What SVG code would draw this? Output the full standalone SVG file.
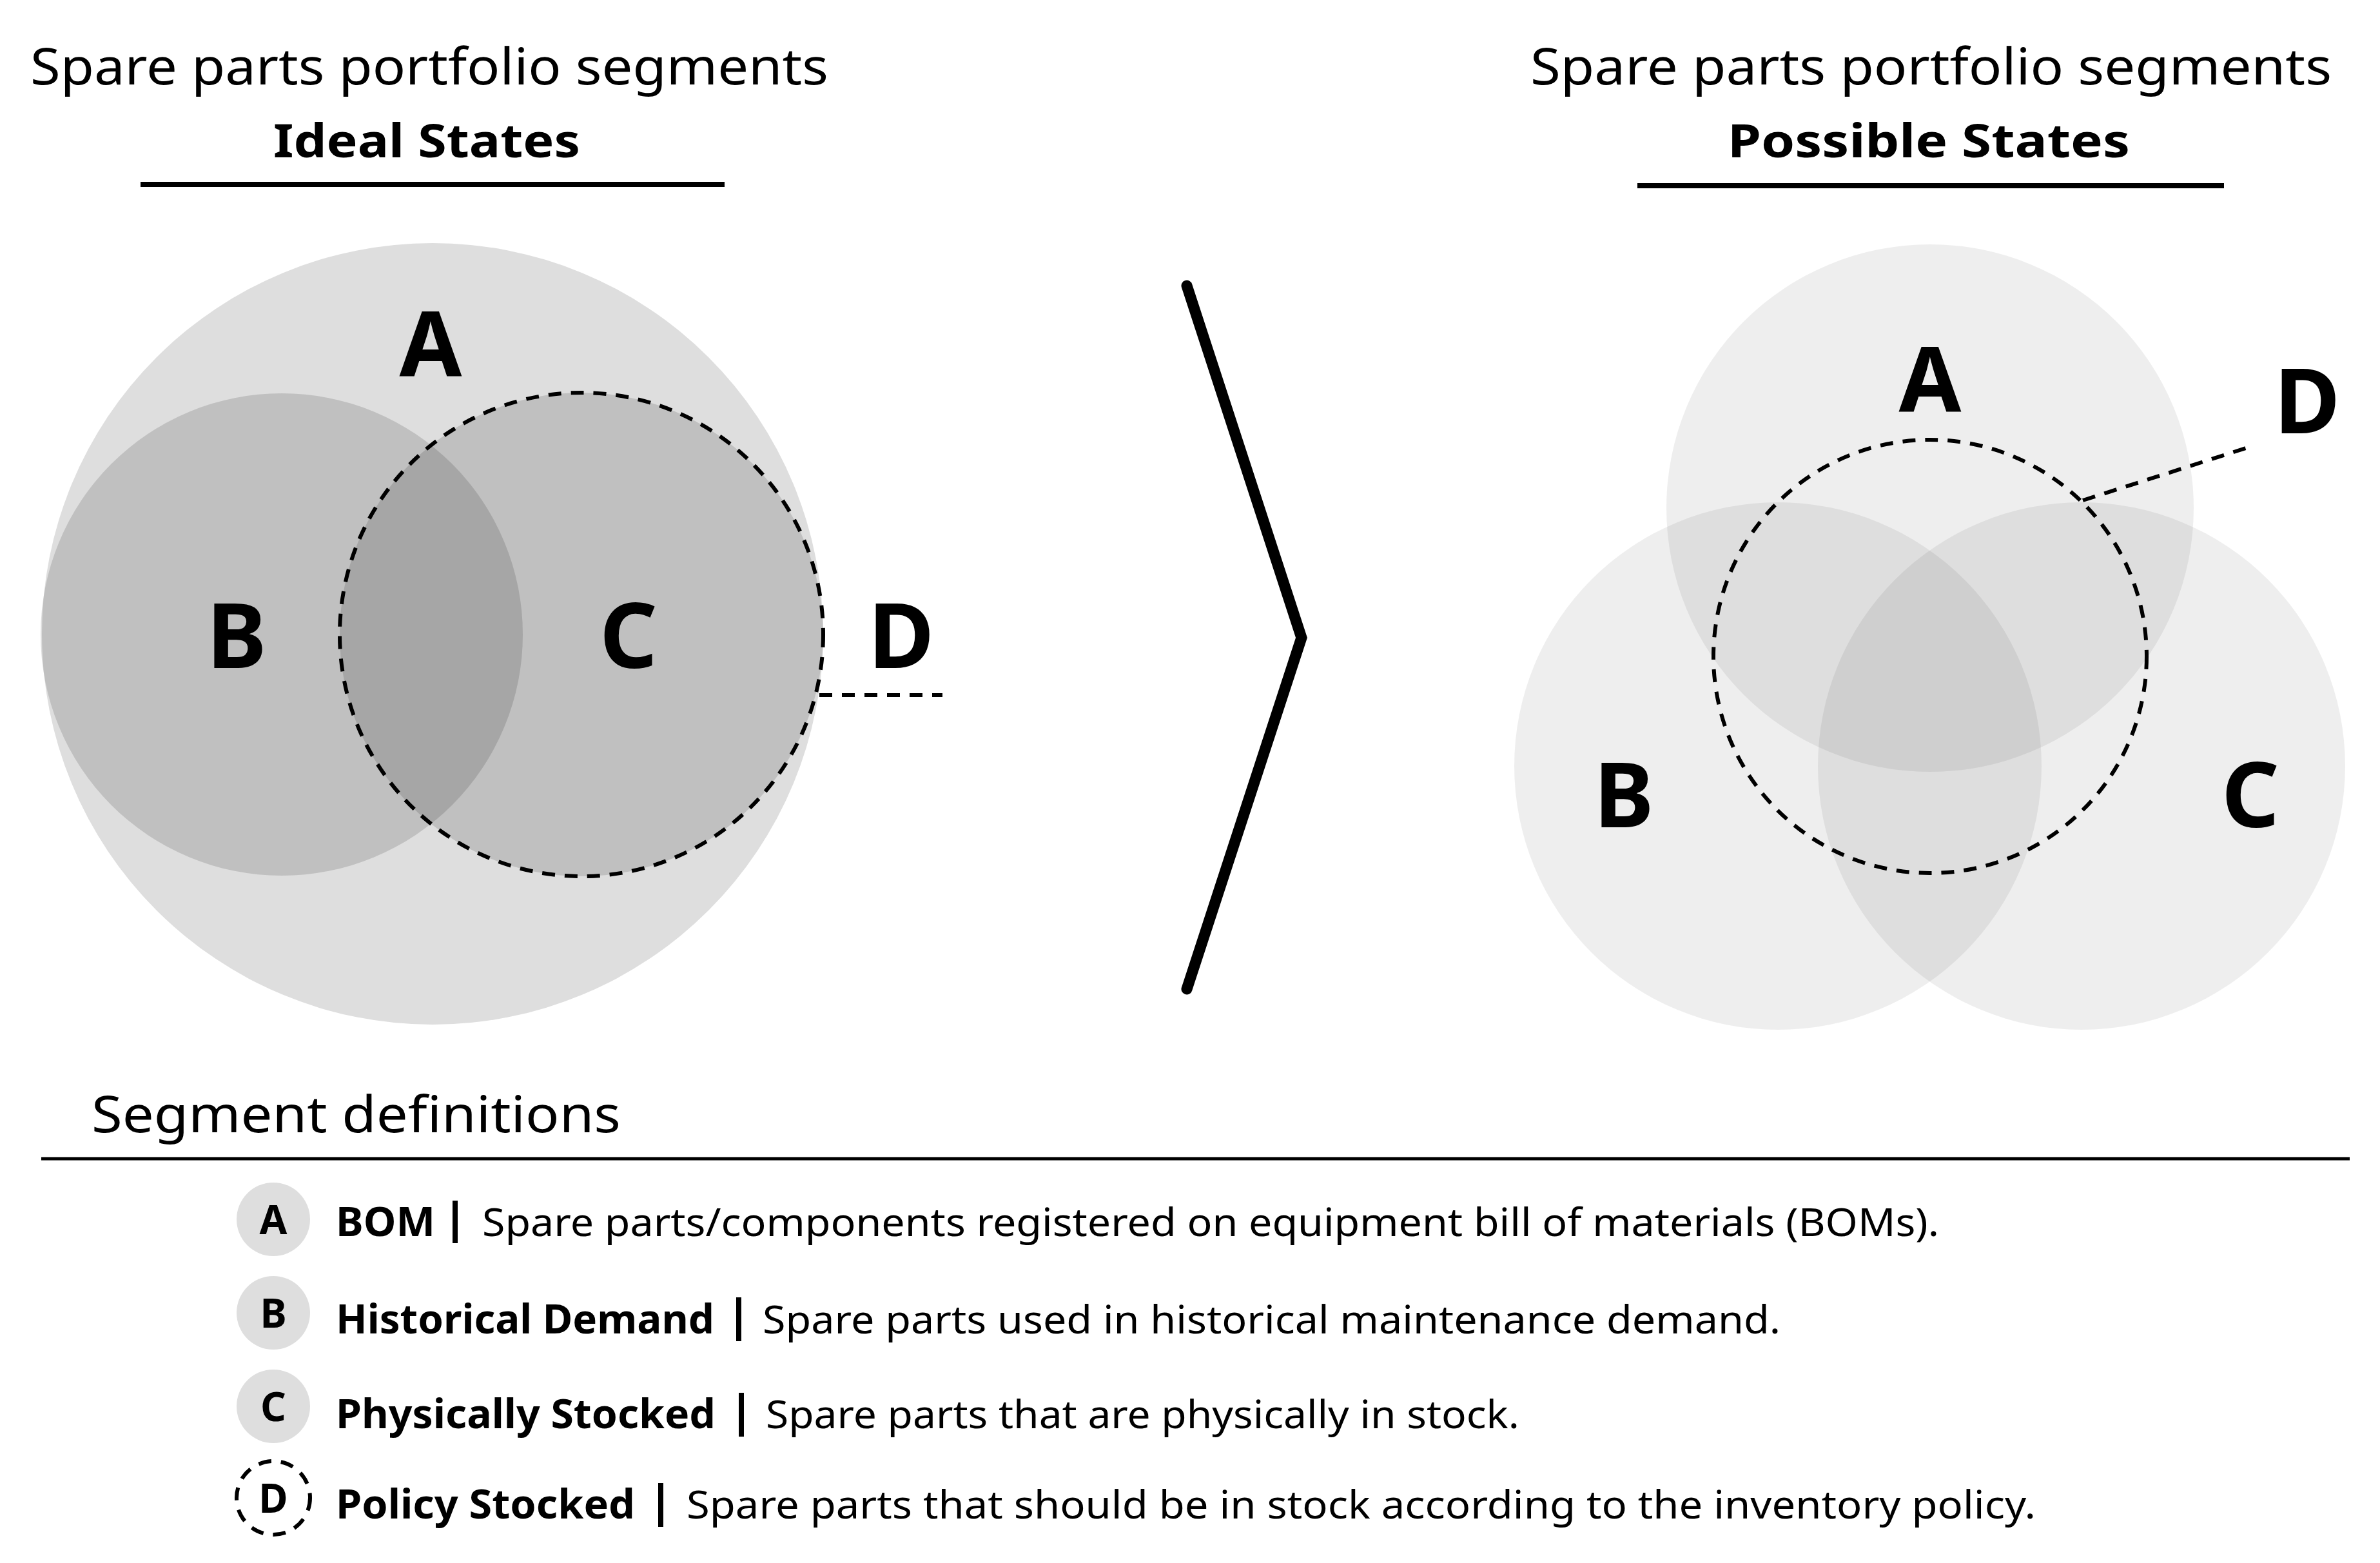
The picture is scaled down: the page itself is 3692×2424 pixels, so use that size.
<svg xmlns="http://www.w3.org/2000/svg" width="3692" height="2424" viewBox="0 0 3692 2424">
<style>
text{font-family:"Noto Sans","Liberation Sans",sans-serif;fill:#000}
.t{font-size:78px}
.h{font-size:72px;font-weight:bold}
.big{font-size:140px;font-weight:bold;text-anchor:middle}
.lb{font-size:62px;font-weight:bold}
.ld{font-size:60px}
.lc{font-size:62px;font-weight:bold;text-anchor:middle}
.dash{fill:none;stroke:#000;stroke-width:6;stroke-dasharray:20 15}
.rule{stroke:#000;stroke-width:8}
</style>
<rect width="3692" height="2424" fill="#fff"/>
<g id="titles">
<text class="t" x="47" y="131" textLength="1238" lengthAdjust="spacingAndGlyphs">Spare parts portfolio segments</text>
<text class="h" x="424" y="244" textLength="476" lengthAdjust="spacingAndGlyphs">Ideal States</text>
<line class="rule" x1="218" y1="286" x2="1124" y2="286"/>
<text class="t" x="2374" y="131" textLength="1243" lengthAdjust="spacingAndGlyphs">Spare parts portfolio segments</text>
<text class="h" x="2680" y="244" textLength="624" lengthAdjust="spacingAndGlyphs">Possible States</text>
<line class="rule" x1="2540" y1="288" x2="3450" y2="288"/>
</g>
<g id="ideal">
<circle id="ideal-A" cx="671" cy="983" r="606" fill="#dedede"/>
<circle id="ideal-B" cx="437" cy="984" r="374" fill="#000" fill-opacity="0.135"/>
<circle id="ideal-C" cx="902" cy="984" r="375" fill="#000" fill-opacity="0.135"/>
<circle id="ideal-D" cx="902" cy="984" r="375" class="dash"/>
<text class="big" x="668" y="584">A</text>
<text class="big" x="367" y="1036">B</text>
<text class="big" x="975" y="1036">C</text>
<text class="big" x="1398" y="1036">D</text>
</g>
<g id="possible">
<circle id="pos-A" cx="2994" cy="788" r="409" fill="#000" fill-opacity="0.065"/>
<circle id="pos-B" cx="2758" cy="1188" r="409" fill="#000" fill-opacity="0.065"/>
<circle id="pos-C" cx="3229" cy="1188" r="409" fill="#000" fill-opacity="0.065"/>
<circle id="pos-D" cx="2994" cy="1018" r="336" class="dash"/>
<text class="big" x="2994" y="639">A</text>
<text class="big" x="3579" y="672">D</text>
<text class="big" x="2519" y="1283">B</text>
<text class="big" x="3491" y="1283">C</text>
</g>
<g id="connectors">
<line class="dash" x1="1271" y1="1078" x2="1462" y2="1078"/>
<line class="dash" x1="3231" y1="776" x2="3487" y2="694"/>
<polyline points="1841,443 2019,989 1841,1534" fill="none" stroke="#000" stroke-width="17" stroke-linecap="round" stroke-linejoin="miter"/>
</g>
<g id="legend">
<text class="t" x="142" y="1756" textLength="821" lengthAdjust="spacingAndGlyphs">Segment definitions</text>
<line x1="64" y1="1797" x2="3645" y2="1797" stroke="#000" stroke-width="5"/>
<g id="leg-A">
<circle cx="424" cy="1891" r="57" fill="#dedede"/>
<text class="lc" x="424" y="1914">A</text>
<text class="lb" x="521" y="1917" textLength="154" lengthAdjust="spacingAndGlyphs">BOM</text>
<line x1="706" y1="1862" x2="706" y2="1928" stroke="#000" stroke-width="8"/>
<text class="ld" x="748" y="1917" textLength="2260" lengthAdjust="spacingAndGlyphs">Spare parts/components registered on equipment bill of materials (BOMs).</text>
</g>
<g id="leg-B">
<circle cx="424" cy="2036" r="57" fill="#dedede"/>
<text class="lc" x="424" y="2059">B</text>
<text class="lb" x="521" y="2068" textLength="587" lengthAdjust="spacingAndGlyphs">Historical Demand</text>
<line x1="1146" y1="2012" x2="1146" y2="2080" stroke="#000" stroke-width="8"/>
<text class="ld" x="1183" y="2068" textLength="1579" lengthAdjust="spacingAndGlyphs">Spare parts used in historical maintenance demand.</text>
</g>
<g id="leg-C">
<circle cx="424" cy="2181" r="57" fill="#dedede"/>
<text class="lc" x="424" y="2204">C</text>
<text class="lb" x="521" y="2215" textLength="589" lengthAdjust="spacingAndGlyphs">Physically Stocked</text>
<line x1="1150" y1="2160" x2="1150" y2="2228" stroke="#000" stroke-width="8"/>
<text class="ld" x="1188" y="2215" textLength="1169" lengthAdjust="spacingAndGlyphs">Spare parts that are physically in stock.</text>
</g>
<g id="leg-D">
<circle cx="424" cy="2323" r="57" class="dash" stroke-width="5"/>
<text class="lc" x="424" y="2346">D</text>
<text class="lb" x="521" y="2355" textLength="464" lengthAdjust="spacingAndGlyphs">Policy Stocked</text>
<line x1="1025" y1="2300" x2="1025" y2="2368" stroke="#000" stroke-width="8"/>
<text class="ld" x="1065" y="2355" textLength="2093" lengthAdjust="spacingAndGlyphs">Spare parts  that should be in stock according to the  inventory policy.</text>
</g>
</g>
</svg>
